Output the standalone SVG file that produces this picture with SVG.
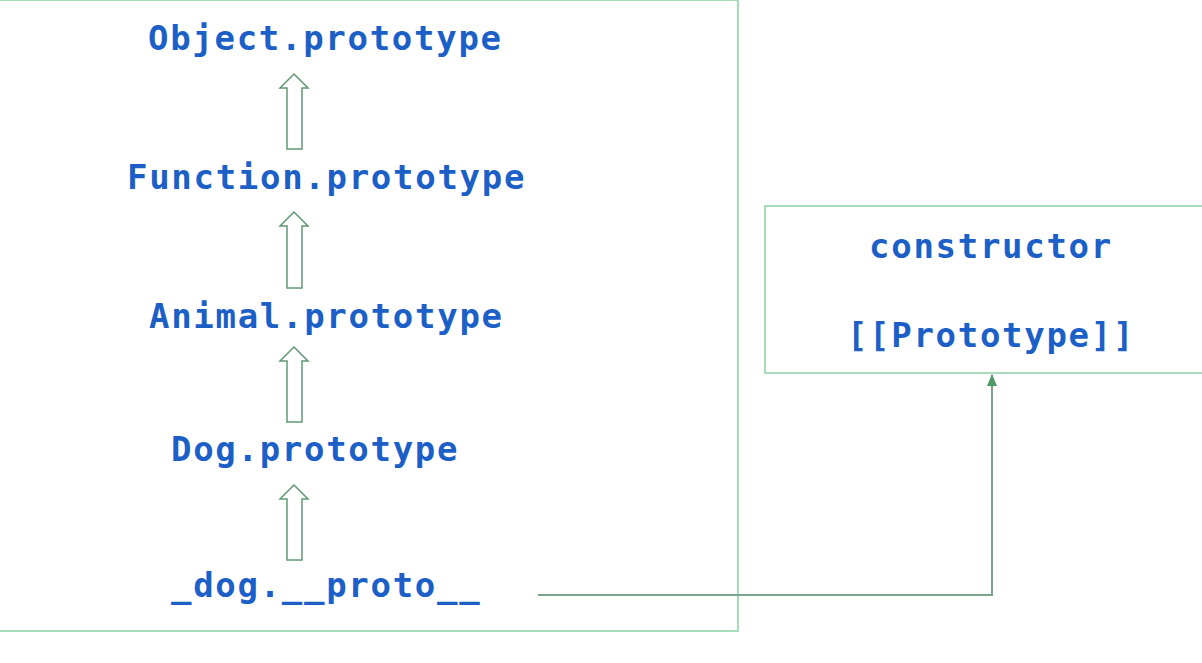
<svg xmlns="http://www.w3.org/2000/svg" width="1202" height="663" viewBox="0 0 1202 663">
<defs>
<style>
.t{font-family:"DejaVu Sans Mono","Liberation Mono",monospace;font-weight:bold;font-size:34px;fill:#1c5fc6;letter-spacing:1.7px}
.box{fill:none;stroke:#a6dcb9;stroke-width:2}
.up{fill:#fff;stroke:#5f9a74;stroke-width:1.5;stroke-linejoin:miter}
.conn{fill:none;stroke:#7aa58a;stroke-width:2}
</style>
<marker id="ah" viewBox="0 0 12 10" refX="11" refY="5" markerWidth="12" markerHeight="10" markerUnits="userSpaceOnUse" orient="auto">
<path d="M0,0 L12,5 L0,10 Z" fill="#4f9a6a"/>
</marker>
</defs>
<rect width="1202" height="663" fill="#fff"/>
<g id="prototype-chain">
<rect class="box" x="-2" y="0" width="740" height="631"/>
</g>
<g id="n-object"><text class="t" x="148" y="50">Object.prototype</text></g>
<g id="n-function"><text class="t" x="127" y="189">Function.prototype</text></g>
<g id="n-animal"><text class="t" x="149" y="328">Animal.prototype</text></g>
<g id="n-dog"><text class="t" x="171" y="461">Dog.prototype</text></g>
<g id="n-dogproto"><text class="t" x="171" y="597">_dog.__proto__</text></g>
<g id="n-instance">
<rect class="box" x="765" y="206" width="445" height="167"/>
<text class="t" x="991" y="258" text-anchor="middle">constructor</text>
<text class="t" x="991" y="347" text-anchor="middle">[[Prototype]]</text>
</g>
<g id="connectors">
<path class="up" d="M294,74 L308,88 L302,88 L302,149 L287,149 L287,88 L280,88 Z"/>
<path class="up" d="M294,212 L308,226 L302,226 L302,288 L287,288 L287,226 L280,226 Z"/>
<path class="up" d="M294,347 L308,361 L302,361 L302,422 L287,422 L287,361 L280,361 Z"/>
<path class="up" d="M294,485 L308,499 L302,499 L302,560 L287,560 L287,499 L280,499 Z"/>
<path class="conn" d="M538,595 L992,595 L992,375" marker-end="url(#ah)"/>
</g>
</svg>
